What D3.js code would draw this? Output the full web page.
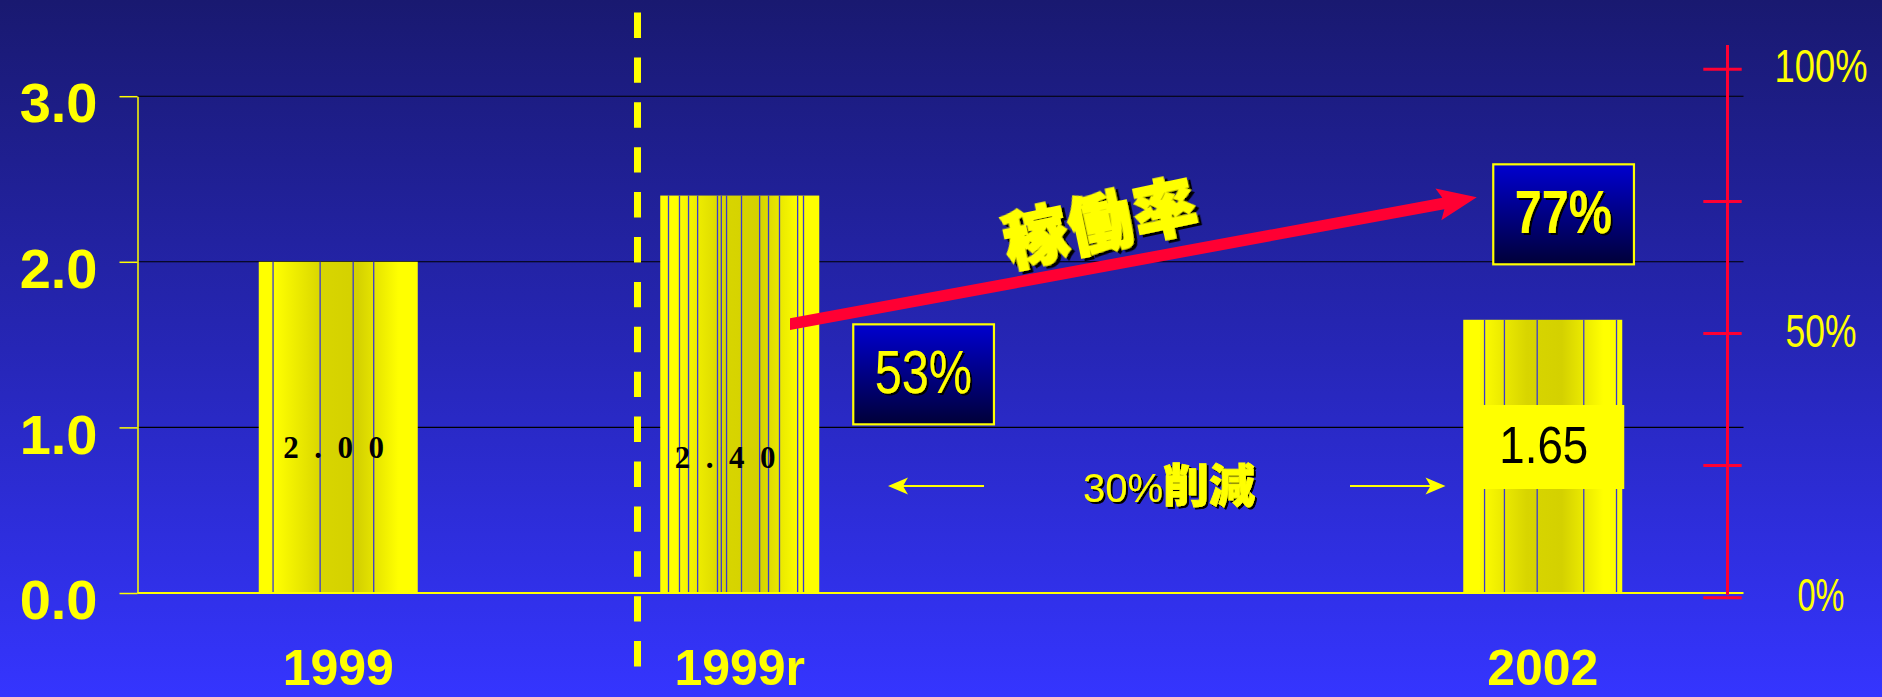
<!DOCTYPE html>
<html>
<head>
<meta charset="utf-8">
<script src="https://cdn.jsdelivr.net/npm/d3@7"></script>
<style>
  html, body { margin: 0; padding: 0; overflow: hidden; background: #191970; }
  svg { display: block; }
</style>
</head>
<body>
<svg id="chart" width="1882" height="697"></svg>
<script>
// ---- data ----
const slots = ["1999", "1999r", "gap", "2002"];          // band slots on the x axis (one left empty)
const categories = ["1999", "1999r", "2002"];
const values = [2.00, 2.40, 1.65];
const valueLabels = ["2.00", "2.40", "1.65"];
const leftTicks = [0, 1, 2, 3];
const leftTickLabels = ["0.0", "1.0", "2.0", "3.0"];
const pctTicks = [0, 25, 50, 75, 100];
const pctLabelValues = [0, 50, 100];
const pctLabels = ["0%", "50%", "100%"];
const rateFrom = 53;   // 稼働率 1999r
const rateTo = 77;     // 稼働率 2002
const rateTitle = "稼働率";
const reductionText = ["30%", "削減"];

// ---- styling ----
const W = 1882, H = 697;
const YELLOW = "#ffff00", RED = "#ff0033";
const SANS = "'Liberation Sans', Arial, sans-serif";
const SERIF = "'Liberation Serif', 'Times New Roman', serif";
const CJK = "'Noto Sans CJK JP', 'Noto Sans CJK SC', sans-serif";
// decorative vertical seams inside each bar (fraction of bar width)
const seams = {
  "1999":  [0.090, 0.386, 0.594, 0.723],
  "1999r": [0.052, 0.121, 0.178, 0.235, 0.360, 0.384, 0.417, 0.511, 0.625, 0.681, 0.750, 0.864, 0.901],
  "2002":  [0.134, 0.259, 0.465, 0.758, 0.964]
};

const svg = d3.select("#chart");
const defs = svg.append("defs");

// background gradient
const bg = defs.append("linearGradient").attr("id", "bg")
  .attr("x1", 0).attr("y1", 0).attr("x2", 0).attr("y2", 1);
bg.append("stop").attr("offset", 0).attr("stop-color", "#191970");
bg.append("stop").attr("offset", 0.5).attr("stop-color", "#2626b6");
bg.append("stop").attr("offset", 1).attr("stop-color", "#3535ff");

// bar shading
const bg2 = defs.append("linearGradient").attr("id", "barGrad")
  .attr("x1", 0).attr("y1", 0).attr("x2", 1).attr("y2", 0);
[[0, "#ffff00"], [0.10, "#ffff00"], [0.40, "#d8d500"], [0.62, "#d4d100"], [0.88, "#ffff00"], [1, "#ffff00"]]
  .forEach(([o, c]) => bg2.append("stop").attr("offset", o).attr("stop-color", c));

// callout box fill
const bx = defs.append("linearGradient").attr("id", "boxGrad")
  .attr("x1", 0).attr("y1", 0).attr("x2", 0).attr("y2", 1);
bx.append("stop").attr("offset", 0).attr("stop-color", "#0000d0");
bx.append("stop").attr("offset", 1).attr("stop-color", "#000038");

function shadow(id, d) {
  const f = defs.append("filter").attr("id", id)
    .attr("x", "-10%").attr("y", "-20%").attr("width", "130%").attr("height", "150%");
  f.append("feDropShadow").attr("dx", d).attr("dy", d).attr("stdDeviation", 0.4)
    .attr("flood-color", "#000").attr("flood-opacity", 1);
}
shadow("sh2", 2);
shadow("sh3", 3);

svg.append("rect").attr("width", W).attr("height", H).attr("fill", "url(#bg)");

// ---- scales ----
const x = d3.scaleBand().domain(slots).range([137.5, 1743.5])
  .paddingInner(0.604).paddingOuter(0.302);
const y = d3.scaleLinear().domain([0, 3]).range([593, 96.2]);
const yPct = d3.scaleLinear().domain([0, 100]).range([597.7, 69.3]);
const bw = x.bandwidth();
const xc = c => x(c) + bw / 2;

// ---- gridlines ----
svg.append("g").selectAll("line")
  .data(leftTicks.filter(d => d > 0)).join("line")
  .attr("x1", x.range()[0]).attr("x2", x.range()[1])
  .attr("y1", d => y(d)).attr("y2", d => y(d))
  .attr("stroke", "#000").attr("stroke-width", 1.1);

// ---- bars ----
const barData = categories.map((c, i) => ({ c, v: values[i], label: valueLabels[i] }));
const bars = svg.append("g").selectAll("g").data(barData).join("g");
bars.append("rect")
  .attr("x", d => x(d.c)).attr("y", d => y(d.v))
  .attr("width", bw).attr("height", d => y(0) - y(d.v))
  .attr("fill", "url(#barGrad)");
bars.each(function (d) {
  d3.select(this).selectAll("line.seam").data(seams[d.c]).join("line")
    .attr("class", "seam")
    .attr("x1", f => x(d.c) + f * bw).attr("x2", f => x(d.c) + f * bw)
    .attr("y1", y(d.v)).attr("y2", y(0))
    .attr("stroke", "#3a3ad0").attr("stroke-width", 1.3);
});

// ---- left axis ----
const axisL = d3.axisLeft(y).tickValues(leftTicks).tickSize(18).tickSizeOuter(0)
  .tickPadding(22).tickFormat((d, i) => leftTickLabels[i]);
const gL = svg.append("g").attr("transform", `translate(${x.range()[0]},0)`).call(axisL);
gL.select(".domain").attr("stroke", YELLOW).attr("stroke-width", 1.5);
gL.selectAll(".tick line").attr("stroke", YELLOW).attr("stroke-width", 1.5);
gL.selectAll(".tick text").attr("fill", YELLOW).attr("dy", "0.46em")
  .style("font-family", SANS).style("font-weight", "bold").style("font-size", "56px");

// baseline
svg.append("line")
  .attr("x1", x.range()[0]).attr("x2", x.range()[1])
  .attr("y1", y(0)).attr("y2", y(0))
  .attr("stroke", YELLOW).attr("stroke-width", 2);

// ---- x labels ----
svg.append("g").selectAll("text").data(categories).join("text")
  .attr("x", d => xc(d)).attr("y", 685)
  .attr("text-anchor", "middle").attr("fill", YELLOW)
  .style("font-family", SANS).style("font-weight", "bold").style("font-size", "50px")
  .text(d => d);

// ---- dashed divider between 1999 and 1999r ----
const divX = x("1999r") - 22.75;
svg.append("line")
  .attr("x1", divX).attr("x2", divX).attr("y1", 12.5).attr("y2", 667.5)
  .attr("stroke", YELLOW).attr("stroke-width", 7)
  .attr("stroke-dasharray", "25.4 19.5");

// ---- value labels ----
const serifLabels = [
  { c: "1999", label: valueLabels[0], dx: 24.5, base: y(0) - 134.7 },
  { c: "1999r", label: valueLabels[1], dx: 14.5, base: y(0) - 125 }
];
svg.append("g").selectAll("text").data(serifLabels).join("text")
  .attr("x", d => x(d.c) + d.dx).attr("y", d => d.base)
  .attr("fill", "#000")
  .style("font-family", SERIF).style("font-weight", "bold").style("font-size", "31px")
  .style("letter-spacing", "15.5px")
  .text(d => d.label);

// 2002 value in a solid yellow panel
const boxTop = y(0) - 188;
svg.append("rect")
  .attr("x", x("2002") + 14).attr("y", boxTop).attr("width", 147).attr("height", 84)
  .attr("fill", YELLOW);
svg.append("text")
  .attr("x", xc("2002") + 1).attr("y", boxTop + 58.3)
  .attr("text-anchor", "middle").attr("fill", "#000")
  .attr("textLength", 89).attr("lengthAdjust", "spacingAndGlyphs")
  .style("font-family", SANS).style("font-size", "52px")
  .text(valueLabels[2]);

// ---- right (utilization) axis ----
const axX = 1727.5;
const gR = svg.append("g");
gR.append("line").attr("x1", axX).attr("x2", axX)
  .attr("y1", yPct(100) - 24.3).attr("y2", yPct(0) - 2.5)
  .attr("stroke", RED).attr("stroke-width", 3);
gR.selectAll("line.t").data(pctTicks).join("line").attr("class", "t")
  .attr("x1", axX - 24.2).attr("x2", axX + 14.2)
  .attr("y1", d => yPct(d)).attr("y2", d => yPct(d))
  .attr("stroke", RED).attr("stroke-width", 3);
// narrow percentage labels: horizontally condensed to the target widths
const pctLen = { "0%": 47, "50%": 71, "100%": 93 };
gR.selectAll("g.pl").data(pctLabelValues).join("g").attr("class", "pl")
  .each(function (d, i) {
    const g = d3.select(this);
    const t = g.append("text")
      .attr("x", 0).attr("y", 0)
      .attr("text-anchor", "middle").attr("fill", YELLOW)
      .style("font-family", SANS).style("font-size", "46px")
      .text(pctLabels[i]);
    const natural = t.node().getComputedTextLength() || pctLen[pctLabels[i]];
    const sx = pctLen[pctLabels[i]] / natural;
    g.attr("transform", `translate(1821,${yPct(d) + 13}) scale(${sx},1)`);
  });

// ---- utilization arrow 53% -> 77% ----
const S = [x("1999r") + 129.75, yPct(rateFrom) + 6.5];
const T = [x("2002") + 13.5, yPct(rateTo) + 6.5];
(function drawArrow() {
  const dx = T[0] - S[0], dy = T[1] - S[1], len = Math.hypot(dx, dy);
  const u = [dx / len, dy / len], n = [-u[1], u[0]];
  const hw = 5.75, headL = 39, headW = 16.2, notch = 5;
  const vHalf = hw / Math.abs(u[0]);            // vertical cut at the tail
  const shaftEnd = [T[0] - u[0] * (headL - notch), T[1] - u[1] * (headL - notch)];
  const base = [T[0] - u[0] * headL, T[1] - u[1] * headL];
  const p = (a, k) => [a[0] + n[0] * k, a[1] + n[1] * k];
  const pts = [
    [S[0], S[1] - vHalf], p(shaftEnd, -hw), p(base, -headW), T,
    p(base, headW), p(shaftEnd, hw), [S[0], S[1] + vHalf]
  ];
  svg.append("path").attr("d", d3.line()(pts) + "Z").attr("fill", RED);
})();

// callout boxes with the percentages
const callouts = [
  { v: rateFrom, x0: x("1999r") + 193, y0: yPct(rateFrom) + 6.7, weight: "normal" },
  { v: rateTo, x0: x("2002") + 30, y0: yPct(rateTo) - 26.5, weight: "bold" }
];
const cg = svg.append("g").selectAll("g").data(callouts).join("g");
cg.append("rect")
  .attr("x", d => d.x0).attr("y", d => d.y0).attr("width", 140.7).attr("height", 100)
  .attr("fill", "url(#boxGrad)").attr("stroke", YELLOW).attr("stroke-width", 2.2);
cg.append("text")
  .attr("x", d => d.x0 + 70).attr("y", d => d.y0 + 68.4)
  .attr("text-anchor", "middle").attr("fill", YELLOW)
  .attr("filter", "url(#sh2)")
  .attr("textLength", 97).attr("lengthAdjust", "spacingAndGlyphs")
  .style("font-family", SANS).style("font-size", "61px").style("font-weight", d => d.weight)
  .text(d => d.v + "%");

// 稼働率 title along the arrow
svg.append("g").attr("transform", "translate(1101,222) rotate(-12)")
  .append("text")
  .attr("x", 0).attr("y", 24)
  .attr("text-anchor", "middle").attr("fill", YELLOW)
  .attr("stroke", YELLOW).attr("stroke-width", 2)
  .attr("filter", "url(#sh3)")
  .style("font-family", CJK).style("font-weight", 900).style("font-size", "64px")
  .style("letter-spacing", "2px")
  .text(rateTitle);

// ---- 30%削減 with span arrows ----
const spanY = y(0) - 107;
function hArrow(x1, x2) {     // line from x1 with head at x2
  const dir = Math.sign(x2 - x1);
  svg.append("line").attr("x1", x1).attr("x2", x2 - dir * 14).attr("y1", spanY).attr("y2", spanY)
    .attr("stroke", YELLOW).attr("stroke-width", 2);
  const pts = [[x2, spanY], [x2 - dir * 20, spanY - 8.5], [x2 - dir * 15, spanY], [x2 - dir * 20, spanY + 8.5]];
  svg.append("path").attr("d", d3.line()(pts) + "Z").attr("fill", YELLOW);
}
hArrow(x("1999r") + 323.75, x("1999r") + 227.75);
hArrow(x("2002") - 113.25, x("2002") - 17.75);

const red = svg.append("text").attr("x", 1083).attr("y", 501.5)
  .attr("fill", YELLOW).attr("filter", "url(#sh2)");
red.append("tspan").style("font-family", SANS).style("font-size", "40px").text(reductionText[0]);
red.append("tspan").style("font-family", CJK).style("font-weight", 900).style("font-size", "46px")
  .attr("stroke", YELLOW).attr("stroke-width", 0.8)
  .text(reductionText[1]);
</script>
</body>
</html>
